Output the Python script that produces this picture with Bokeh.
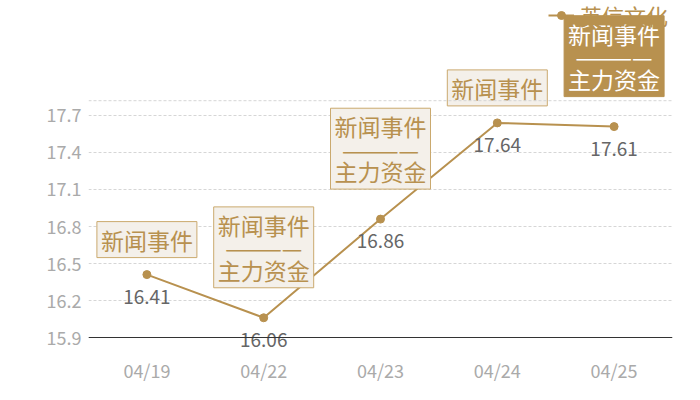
from bokeh.plotting import figure
from bokeh.models import (FixedTicker, Legend, LegendItem, Span,
                          ColumnDataSource, CustomJSTickFormatter)
from bokeh.core.properties import value
from bokeh.embed import file_html
from bokeh.resources import INLINE

# ---- data ----
dates = ["04/19", "04/22", "04/23", "04/24", "04/25"]
values = [16.41, 16.06, 16.86, 17.64, 17.61]
events = ["新闻事件",
          "新闻事件\n————\n主力资金",
          "新闻事件\n————\n主力资金",
          "新闻事件",
          "新闻事件\n————\n主力资金"]
highlight = [False, False, False, False, True]
y_ticks = [15.9, 16.2, 16.5, 16.8, 17.1, 17.4, 17.7]
series_name = "英信文化"
Y_MIN = 15.9            # value axis baseline
Y_GRID_TOP = 17.82      # top split line of the value axis
Y_LO, Y_HI = 15.7784, 18.6324   # visible range (room for labels)

GOLD = "#b8914f"
FONT = "Noto Sans CJK SC"

p = figure(width=700, height=400, x_range=dates, y_range=(Y_LO, Y_HI),
           output_backend="svg", toolbar_location=None,
           min_border_left=88, min_border_right=28,
           min_border_top=0, min_border_bottom=48)
p.outline_line_color = None
p.background_fill_color = "white"
p.border_fill_color = "white"

# axes
p.xaxis.axis_line_color = None
p.xaxis.major_tick_line_color = None
p.xaxis.minor_tick_line_color = None
p.xaxis.major_tick_out = 0
p.xaxis.major_tick_in = 0
p.xaxis.major_label_text_color = "#aaaaaa"
p.xaxis.major_label_text_font = FONT
p.xaxis.major_label_text_font_size = "18px"
p.xaxis.major_label_standoff = 4

p.yaxis.axis_line_color = None
p.yaxis.major_tick_line_color = None
p.yaxis.minor_tick_line_color = None
p.yaxis.major_tick_out = 0
p.yaxis.major_tick_in = 0
p.yaxis.ticker = FixedTicker(ticks=y_ticks)
p.yaxis.formatter = CustomJSTickFormatter(code="return tick.toFixed(1);")
p.yaxis.major_label_text_color = "#aaaaaa"
p.yaxis.major_label_text_font = FONT
p.yaxis.major_label_text_font_size = "18px"
p.yaxis.major_label_standoff = 7

p.xgrid.grid_line_color = None
p.ygrid.grid_line_color = "#d6d6d6"
p.ygrid.grid_line_dash = "3 2"
p.ygrid.grid_line_width = 1
top_line = Span(location=Y_GRID_TOP, dimension="width", line_color="#d6d6d6",
                line_dash="3 2", line_width=1)
p.add_layout(top_line)
base_line = Span(location=Y_MIN, dimension="width", line_color="#333333",
                 line_width=1)
p.add_layout(base_line)

src = ColumnDataSource(dict(x=dates, y=values,
                            lbl=[f"{v:.2f}" for v in values]))
ln = p.line("x", "y", source=src, line_color=GOLD, line_width=2)
sc = p.scatter("x", "y", source=src, size=8, fill_color=GOLD,
               line_color=GOLD)

# value labels
p.text("x", "y", text="lbl", source=src, y_offset=22,
       text_align="center", text_baseline="middle",
       text_color="#666666", text_font_size="19px",
       text_font=value(FONT))

# legend (drawn beneath the event boxes)
legend = Legend(items=[LegendItem(label=series_name, renderers=[ln, sc])],
                location=(460, 321), orientation="horizontal",
                border_line_color=None, background_fill_alpha=0,
                padding=0, margin=0, glyph_width=26, glyph_height=20,
                label_standoff=6, label_text_color=GOLD,
                label_text_font=FONT, label_text_font_size="22px",
                label_height=20, level="underlay")
p.add_layout(legend, "center")

# event annotations
for single in (True, False):
    for hl in (False, True):
        idx = [i for i in range(len(dates))
               if ("\n" not in events[i]) == single and highlight[i] == hl]
        if not idx:
            continue
        s = ColumnDataSource(dict(x=[dates[i] for i in idx],
                                  y=[values[i] for i in idx],
                                  t=[events[i] for i in idx]))
        p.text("x", "y", text="t", source=s,
               y_offset=-17 if single else -30,
               text_align="center", text_baseline="bottom",
               text_font=value(FONT), text_font_size="23px",
               text_line_height=0.66,
               text_color="white" if hl else GOLD,
               background_fill_color=GOLD if hl else "#f4f0ea",
               border_line_color=GOLD if hl else "#caa96e",
               border_line_width=1, padding=(4, 1))

open("out.html", "w").write(file_html(p, INLINE))
